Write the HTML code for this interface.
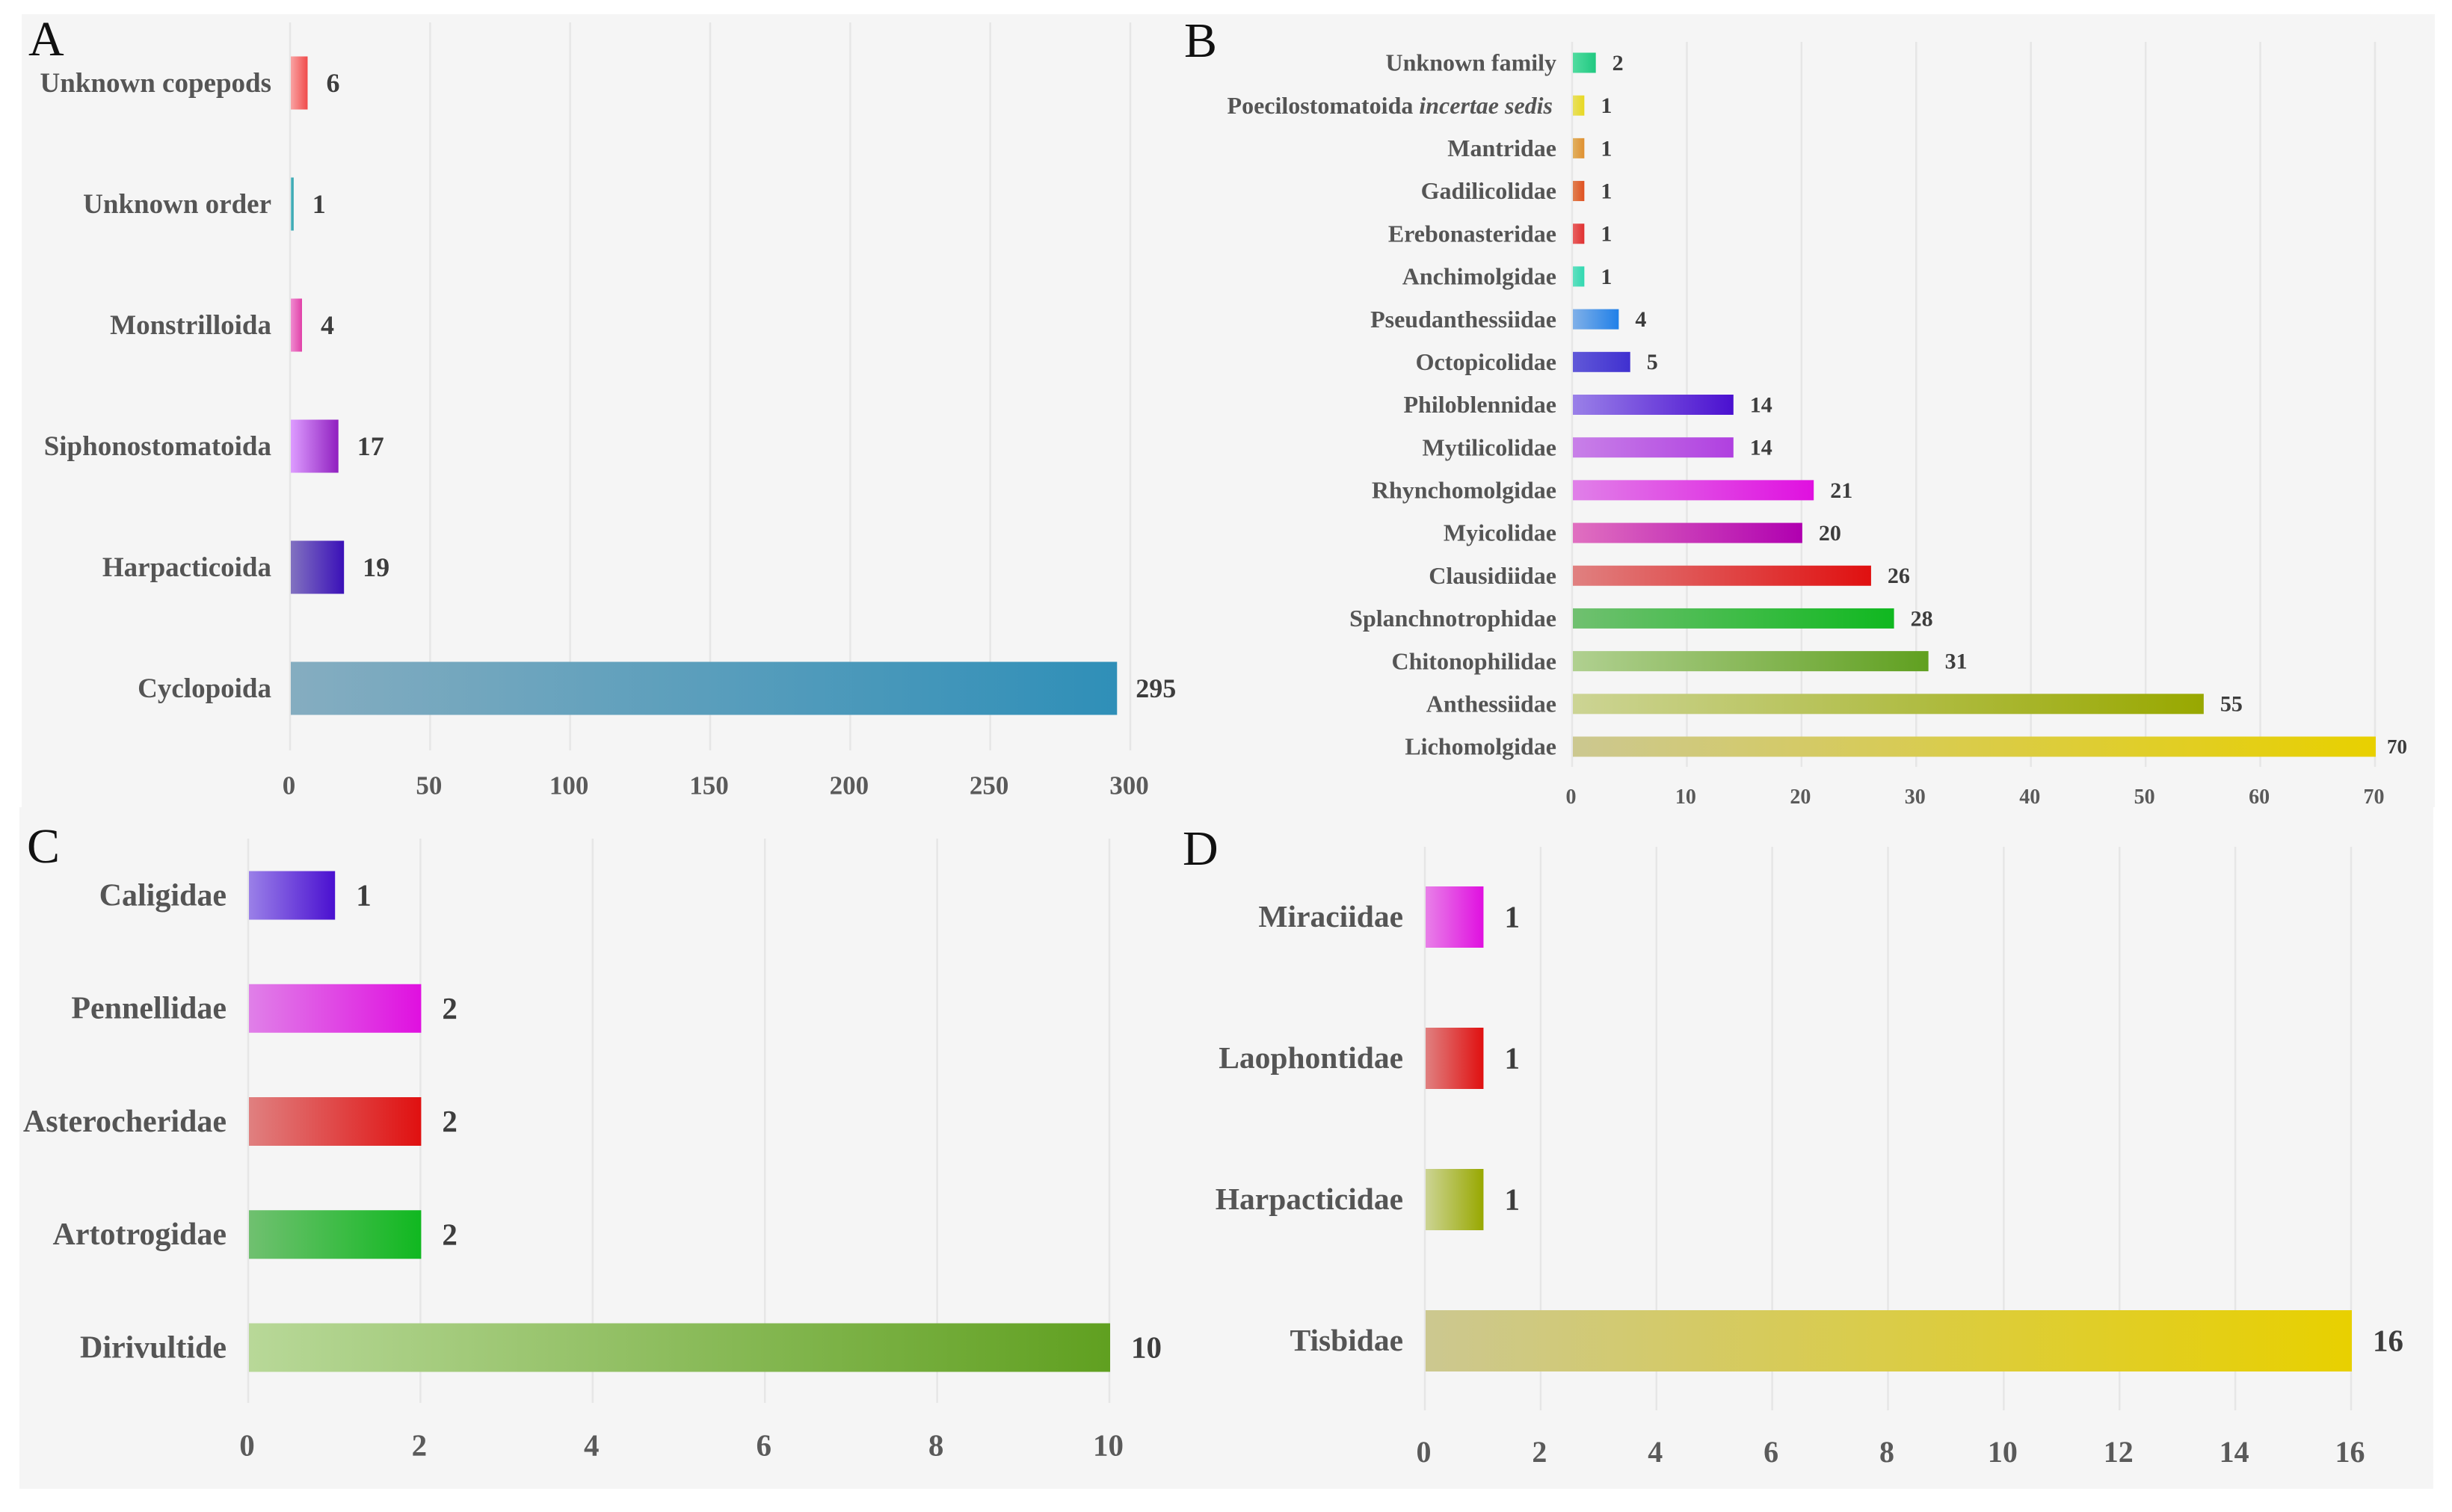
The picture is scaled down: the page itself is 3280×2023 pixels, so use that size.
<!DOCTYPE html>
<html lang="en">
<head>
<meta charset="utf-8">
<title>Copepod taxa counts by order and family</title>
<style>
html,body{margin:0;padding:0;background:#fff;width:3280px;height:2023px;overflow:hidden}
svg{display:block}
text{font-family:"Liberation Serif",serif}
.panel-letter{font-size:66px;fill:#111}
.cat{font-weight:bold;fill:#555;text-anchor:end}
.val{font-weight:bold;fill:#3d3d3d}
.tick{font-weight:bold;fill:#5a5a5a;text-anchor:middle}
</style>
</head>
<body>
<svg id="figure" xmlns="http://www.w3.org/2000/svg" width="3280" height="2023" viewBox="0 0 3280 2023">
  <rect x="0" y="0" width="3280" height="2023" fill="#ffffff"/>
  <rect x="29" y="19" width="3228" height="1061" fill="#f5f5f5"/>
  <rect x="26" y="1080" width="3229" height="912" fill="#f5f5f5"/>
  <defs id="gradients"></defs>
  <text class="panel-letter" x="38" y="74">A</text>
  <text class="panel-letter" x="1584" y="76">B</text>
  <text class="panel-letter" x="36" y="1154">C</text>
  <text class="panel-letter" x="1582" y="1157">D</text>
</svg>
<script>
// Panel A data
var categoriesA = ["Unknown copepods", "Unknown order", "Monstrilloida", "Siphonostomatoida", "Harpacticoida", "Cyclopoida"];
var valuesA = [6, 1, 4, 17, 19, 295];
var ticksA = [0, 50, 100, 150, 200, 250, 300];
var startColorsA = ["#f9a3a3", "#6cc4cc", "#f08cd0", "#dd9cff", "#8272c0", "#85adc0"];
var endColorsA = ["#f04a4a", "#1f9aa6", "#e040a8", "#9020c0", "#3a10b8", "#2f8fb8"];

// Panel B data
var categoriesB = ["Unknown family", "Poecilostomatoida incertae sedis", "Mantridae", "Gadilicolidae", "Erebonasteridae", "Anchimolgidae", "Pseudanthessiidae", "Octopicolidae", "Philoblennidae", "Mytilicolidae", "Rhynchomolgidae", "Myicolidae", "Clausidiidae", "Splanchnotrophidae", "Chitonophilidae", "Anthessiidae", "Lichomolgidae"];
var valuesB = [2, 1, 1, 1, 1, 1, 4, 5, 14, 14, 21, 20, 26, 28, 31, 55, 70];
var ticksB = [0, 10, 20, 30, 40, 50, 60, 70];
var startColorsB = ["#50dca0", "#e8e060", "#e0b060", "#e08050", "#e86060", "#60e0c0", "#80b0e8", "#6058d8", "#9a80e8", "#c880e8", "#e080e8", "#e070c0", "#e08080", "#70c070", "#b0d090", "#ccd494", "#ccc890"];
var endColorsB = ["#20c880", "#e8d820", "#e09030", "#e05020", "#e03030", "#30d8b0", "#2080e8", "#4030d0", "#4a10d0", "#b040e0", "#e010e0", "#b000b0", "#e01010", "#10b820", "#60a020", "#98a800", "#e8d000"];

// Panel C data
var categoriesC = ["Caligidae", "Pennellidae", "Asterocheridae", "Artotrogidae", "Dirivultide"];
var valuesC = [1, 2, 2, 2, 10];
var ticksC = [0, 2, 4, 6, 8, 10];
var startColorsC = ["#9a80e8", "#e080e8", "#e08080", "#70c070", "#b8d898"];
var endColorsC = ["#4a10d0", "#e010e0", "#e01010", "#10b820", "#60a020"];

// Panel D data
var categoriesD = ["Miraciidae", "Laophontidae", "Harpacticidae", "Tisbidae"];
var valuesD = [1, 1, 1, 16];
var ticksD = [0, 2, 4, 6, 8, 10, 12, 14, 16];
var startColorsD = ["#e880e8", "#e08080", "#ccd494", "#ccc890"];
var endColorsD = ["#e010e0", "#e01010", "#98a800", "#e8d000"];

var SVG_NS = "http://www.w3.org/2000/svg";
var figure = document.getElementById("figure");
var gradients = document.getElementById("gradients");

function make(tag, attrs, parent) {
  var el = document.createElementNS(SVG_NS, tag);
  for (var k in attrs) { el.setAttribute(k, attrs[k]); }
  parent.appendChild(el);
  return el;
}

function slug(s) {
  return s.toLowerCase().replace(/[^a-z0-9]+/g, "-");
}

function drawPanel(id, categories, values, ticks, startColors, endColors, g) {
  var group = make("g", {}, figure);
  
  

  var maxTick = ticks[ticks.length - 1];
  function xScale(v) { return g.x0 + (v - ticks[0]) / (maxTick - ticks[0]) * (g.x1 - g.x0); }
  function yScale(i) { return g.yFirst + i * (g.yLast - g.yFirst) / (categories.length - 1); }

  ticks.forEach(function (t) {
    var line = make("line", { x1: xScale(t) - 1, x2: xScale(t) - 1, y1: g.gridTop, y2: g.gridBottom, stroke: "#e6e6e6", "stroke-width": 2.5 }, group);
    
    

    var label = make("text", { class: "tick", x: xScale(t) - 2.5, y: g.tickY + g.tickSize * 0.33, "font-size": g.tickSize }, group);
    label.textContent = String(t);
    
    
  });

  categories.forEach(function (name, i) {
    var y = yScale(i);
    var gradId = "grad-" + id + "-" + i;
    var lg = make("linearGradient", { id: gradId, x1: 0, y1: 0, x2: 1, y2: 0 }, gradients);
    make("stop", { offset: "0%", "stop-color": startColors[i] }, lg);
    make("stop", { offset: "100%", "stop-color": endColors[i] }, lg);

    var bar = make("rect", { x: xScale(0), y: y - g.barH / 2, width: xScale(values[i]) - xScale(0), height: g.barH, fill: "url(#" + gradId + ")" }, group);
    
    

    var marker = " incertae sedis";
    var hasItalic = name.indexOf(marker) >= 0;
    var cat = make("text", { class: "cat", x: g.labelRight - (hasItalic ? 5 : 0), y: y + g.catSize * 0.27 + 2, "font-size": g.catSize }, group);
    
    
    if (hasItalic) {
      cat.appendChild(document.createTextNode(name.replace(marker, " ")));
      var em = make("tspan", { "font-style": "italic" }, cat);
      em.textContent = marker.trim();
    } else {
      cat.textContent = name;
    }

    var isLast = g.smallLast && i === categories.length - 1;
    var vSize = isLast ? g.smallLast : g.valSize;
    var val = make("text", { class: "val", x: xScale(values[i]) + (isLast ? g.smallGap : g.valGap), y: y + vSize * 0.33 + g.valDy, "font-size": vSize }, group);
    val.textContent = String(values[i]);
    
    
  });
}

drawPanel("a", categoriesA, valuesA, ticksA, startColorsA, endColorsA, {
  x0: 389, x1: 1513, gridTop: 30, gridBottom: 1004, yFirst: 111, yLast: 921, barH: 71,
  labelRight: 363, catSize: 37, valSize: 36, valGap: 25, valDy: 0, tickY: 1051, tickSize: 35
});
drawPanel("b", categoriesB, valuesB, ticksB, startColorsB, endColorsB, {
  x0: 2104, x1: 3178, gridTop: 56, gridBottom: 1026, yFirst: 84, yLast: 999, barH: 27,
  labelRight: 2082, catSize: 32, valSize: 30, valGap: 22, valDy: 0, smallLast: 27, smallGap: 15, tickY: 1066, tickSize: 28
});
drawPanel("c", categoriesC, valuesC, ticksC, startColorsC, endColorsC, {
  x0: 333, x1: 1485, gridTop: 1122, gridBottom: 1877, yFirst: 1198, yLast: 1803, barH: 65,
  labelRight: 303, catSize: 42, valSize: 41, valGap: 28, valDy: 0, tickY: 1934, tickSize: 41
});
drawPanel("d", categoriesD, valuesD, ticksD, startColorsD, endColorsD, {
  x0: 1907, x1: 3146, gridTop: 1133, gridBottom: 1887, yFirst: 1227, yLast: 1794, barH: 82,
  labelRight: 1877, catSize: 41.5, valSize: 41, valGap: 28, valDy: 0, tickY: 1943, tickSize: 40
});
</script>
</body>
</html>
